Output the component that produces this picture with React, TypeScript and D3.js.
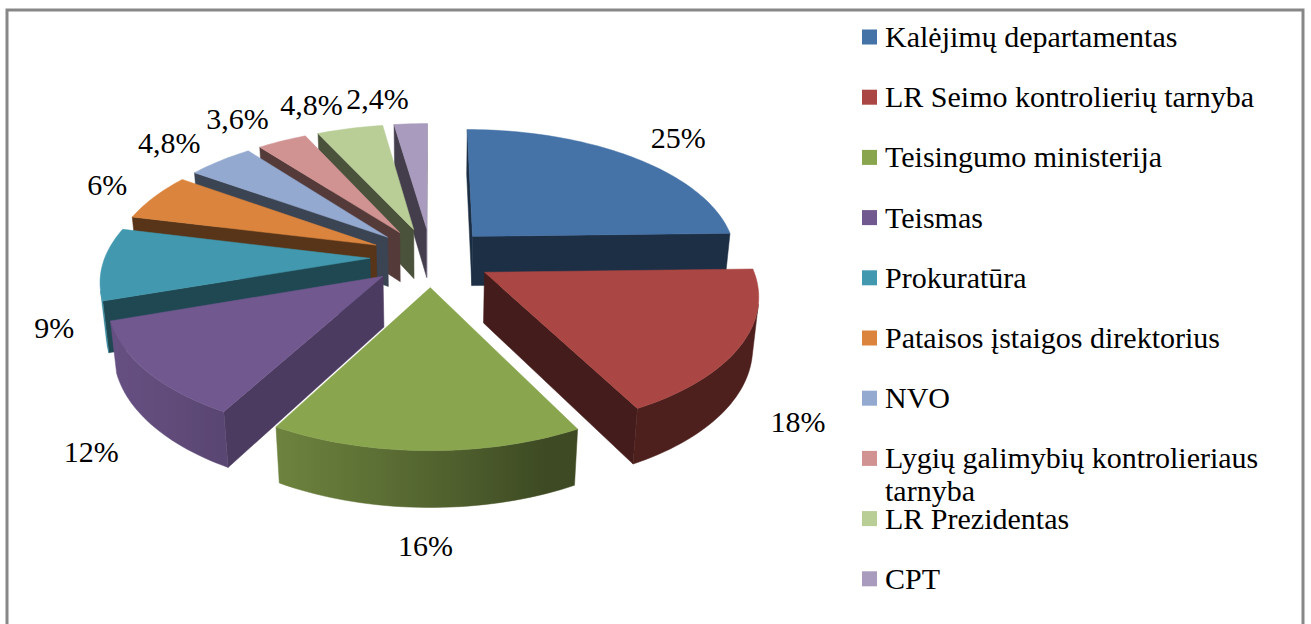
import { useRef, useEffect } from "react";
import * as d3 from "d3";

const categories = [
  "Kalėjimų departamentas",
  "LR Seimo kontrolierių tarnyba",
  "Teisingumo ministerija",
  "Teismas",
  "Prokuratūra",
  "Pataisos įstaigos direktorius",
  "NVO",
  "Lygių galimybių kontrolieriaus tarnyba",
  "LR Prezidentas",
  "CPT",
];
const values = [25, 18, 16, 12, 9, 6, 4.8, 3.6, 4.8, 2.4];
const valueLabels = ["25%", "18%", "16%", "12%", "9%", "6%", "4,8%", "3,6%", "4,8%", "2,4%"];
const colors = [
  "#4572A7",
  "#AA4643",
  "#89A54E",
  "#71588F",
  "#4198AF",
  "#DB843D",
  "#93A9CF",
  "#D19392",
  "#B9CD96",
  "#A99BBD",
];

const FONT = "'Liberation Serif', 'Times New Roman', serif";

type Pt = [number, number];

const shade = (c: string, f: number) => {
  const r = d3.rgb(c);
  return d3.rgb(r.r * f, r.g * f, r.b * f).formatHex();
};

// shoelace, screen coords (y down); negative = faces the viewer
const signedArea = (pts: Pt[]) => {
  let s = 0;
  for (let i = 0; i < pts.length; i++) {
    const a = pts[i];
    const b = pts[(i + 1) % pts.length];
    s += a[0] * b[1] - b[0] * a[1];
  }
  return s;
};

export default function App() {
  const svgRef = useRef<SVGSVGElement>(null);

  useEffect(() => {
    const svg = d3.select(svgRef.current);
    const width = 1311;
    const height = 624;
    svg.selectAll("*").remove();
    svg.attr("width", width).attr("height", height);
    const defs = svg.append("defs");

    // fondo y marco
    svg
      .append("rect")
      .attr("x", 7)
      .attr("y", 10)
      .attr("width", 1296)
      .attr("height", 640)
      .attr("fill", "#fff")
      .attr("stroke", "#878787")
      .attr("stroke-width", 3);

    // proyección 3D
    const cx = 431;
    const cy = 257;
    const K = 265;
    const tilt = (29 * Math.PI) / 180;
    const sinA = Math.sin(tilt);
    const cosA = Math.cos(tilt);
    const F = 5.85;
    const thick = 0.22;
    const explode = 0.23;

    const proj = (x: number, z: number, h: number): Pt => {
      const yp = z * sinA + h * cosA;
      const dp = z * cosA - h * sinA;
      const s = F / (F + dp);
      return [cx + K * x * s, cy - K * yp * s];
    };

    const line = d3.line<Pt>();
    const pathOf = (pts: Pt[]) => line(pts) + "Z";

    const arcs = d3
      .pie<number>()
      .sort(null)
      .value((d) => d)(values);

    const Lside = [-0.937, -0.351];
    const Lrad = [0.98, -0.2];

    const slices = arcs.map((a, i) => {
      const m = (a.startAngle + a.endAngle) / 2;
      const ox = explode * Math.sin(m);
      const oz = explode * Math.cos(m);
      const depth = oz + 0.5 * Math.cos(m);
      return { a, i, m, ox, oz, depth };
    });

    const pieG = svg.append("g");

    slices
      .slice()
      .sort((p, q) => q.depth - p.depth)
      .forEach(({ a, i, ox, oz }) => {
        const g = pieG.append("g");
        const base = colors[i];
        const rim = (t: number, h: number) =>
          proj(ox + Math.sin(t), oz + Math.cos(t), h);
        const ctr = (h: number) => proj(ox, oz, h);
        const n = Math.max(4, Math.ceil((a.endAngle - a.startAngle) / (Math.PI / 120)));
        const angs = d3.range(n + 1).map((k) => a.startAngle + ((a.endAngle - a.startAngle) * k) / n);

        // caras radiales
        const radial = (t: number, pts: Pt[]) => {
          if (signedArea(pts) >= 0) return;
          const d = Math.max(0, Math.sin(t) * Lrad[0] + Math.cos(t) * Lrad[1]);
          const col = shade(base, 0.4 + 0.3 * d * d);
          g.append("path")
            .attr("d", pathOf(pts))
            .attr("fill", col)
            .attr("stroke", col)
            .attr("stroke-width", 0.5);
        };
        radial(a.startAngle - Math.PI / 2, [
          ctr(0),
          rim(a.startAngle, 0),
          rim(a.startAngle, -thick),
          ctr(-thick),
        ]);
        radial(a.endAngle + Math.PI / 2, [
          rim(a.endAngle, 0),
          ctr(0),
          ctr(-thick),
          rim(a.endAngle, -thick),
        ]);

        // lado exterior: tramos visibles con degradado
        const vis = d3.range(n).map((k) => {
          const pts: Pt[] = [
            rim(angs[k], 0),
            rim(angs[k + 1], 0),
            rim(angs[k + 1], -thick),
            rim(angs[k], -thick),
          ];
          return signedArea(pts) < 0;
        });
        const runs: [number, number][] = [];
        let k = 0;
        while (k < n) {
          if (!vis[k]) {
            k++;
            continue;
          }
          const s0 = k;
          while (k < n && vis[k]) k++;
          runs.push([s0, k]);
        }
        runs.forEach(([s0, s1], ri) => {
          const topPts = d3.range(s0, s1 + 1).map((j) => rim(angs[j], 0));
          const botPts = d3.range(s1, s0 - 1, -1).map((j) => rim(angs[j], -thick));
          const xs = topPts.map((p) => p[0]);
          const x1 = d3.min(xs)!;
          const x2 = d3.max(xs)!;
          const id = `side-${i}-${ri}`;
          const grad = defs
            .append("linearGradient")
            .attr("id", id)
            .attr("gradientUnits", "userSpaceOnUse")
            .attr("x1", x1)
            .attr("x2", x2)
            .attr("y1", 0)
            .attr("y2", 0);
          const stops = d3.range(s0, s1).map((j) => {
            const tm = (angs[j] + angs[j + 1]) / 2;
            const d = Math.max(0, Math.sin(tm) * Lside[0] + Math.cos(tm) * Lside[1]);
            const xm = (rim(angs[j], 0)[0] + rim(angs[j + 1], 0)[0]) / 2;
            return { off: x2 > x1 ? (xm - x1) / (x2 - x1) : 0.5, col: shade(base, 0.45 + 0.45 * d) };
          });
          stops
            .sort((p, q) => p.off - q.off)
            .forEach((s) => grad.append("stop").attr("offset", s.off).attr("stop-color", s.col));
          g.append("path")
            .attr("d", pathOf([...topPts, ...botPts]))
            .attr("fill", `url(#${id})`)
            .attr("stroke", `url(#${id})`)
            .attr("stroke-width", 0.5);
        });

        // cara superior
        const top: Pt[] = [ctr(0), ...angs.map((t) => rim(t, 0))];
        g.append("path")
          .attr("d", pathOf(top))
          .attr("fill", base)
          .attr("stroke", base)
          .attr("stroke-width", 0.5);
      });

    // etiquetas de porcentaje
    const labR = 1.36;
    slices.forEach(({ i, m }) => {
      const front = Math.cos(m) < 0;
      const [lx, ly] = proj(labR * Math.sin(m), labR * Math.cos(m), front ? -thick : 0);
      const sn = Math.sin(m);
      const anchor = sn > 0.25 ? "start" : sn < -0.05 ? "end" : "middle";
      const dy = front ? 0.75 : 0.3 - 0.4 * Math.cos(m);
      svg
        .append("text")
        .attr("x", lx)
        .attr("y", ly)
        .attr("dy", `${dy}em`)
        .attr("text-anchor", anchor)
        .attr("font-family", FONT)
        .attr("font-size", 30)
        .attr("fill", "#000")
        .text(valueLabels[i]);
    });

    // leyenda
    const legend = svg.append("g").attr("transform", "translate(862, 0)");
    const maxW = 405;
    categories.forEach((name, i) => {
      const yc = 37 + i * 60.2;
      legend
        .append("rect")
        .attr("x", 0)
        .attr("y", yc - 7.5)
        .attr("width", 15)
        .attr("height", 15)
        .attr("fill", colors[i]);
      const text = legend
        .append("text")
        .attr("x", 23)
        .attr("y", yc + 10)
        .attr("font-family", FONT)
        .attr("font-size", 30)
        .attr("fill", "#000");
      const words = name.split(" ");
      let cur: string[] = [];
      let tspan = text.append("tspan").attr("x", 23).attr("dy", 0);
      words.forEach((w) => {
        cur.push(w);
        tspan.text(cur.join(" "));
        const node = tspan.node() as SVGTSpanElement;
        if (node.getComputedTextLength() > maxW && cur.length > 1) {
          cur.pop();
          tspan.text(cur.join(" "));
          cur = [w];
          tspan = text.append("tspan").attr("x", 23).attr("dy", 33).text(w);
        }
      });
    });
  }, []);

  return (
    <svg
      ref={svgRef}
      style={{ position: "absolute", left: 0, top: 0, display: "block" }}
    ></svg>
  );
}
